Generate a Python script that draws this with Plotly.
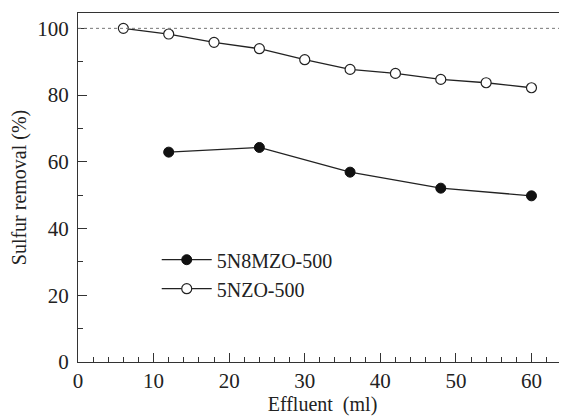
import plotly.graph_objects as go

x_nzo = [6, 12, 18, 24, 30, 36, 42, 48, 54, 60]
y_nzo = [100, 98.3, 95.8, 93.9, 90.6, 87.7, 86.5, 84.7, 83.7, 82.2]
x_n8mzo = [12, 24, 36, 48, 60]
y_n8mzo = [62.9, 64.3, 56.9, 52.1, 49.8]
ref_level = 100

font_family = "Liberation Serif, Times New Roman, serif"

fig = go.Figure()
fig.add_trace(go.Scatter(
    x=x_n8mzo, y=y_n8mzo, mode="lines+markers", name="5N8MZO-500",
    line=dict(color="#222222", width=1.3),
    marker=dict(symbol="circle", size=10, color="#111111", line=dict(color="#111111", width=1)),
))
fig.add_trace(go.Scatter(
    x=x_nzo, y=y_nzo, mode="lines+markers", name="5NZO-500",
    line=dict(color="#222222", width=1.3),
    marker=dict(symbol="circle", size=10, color="white", line=dict(color="#222222", width=1.2)),
))
fig.add_hline(y=ref_level, line=dict(color="#777777", width=1, dash="dot"))

fig.update_layout(
    width=567, height=419,
    margin=dict(l=70, r=8, t=5, b=65),
    paper_bgcolor="white", plot_bgcolor="white",
    font=dict(family=font_family, size=21, color="#222222"),
    showlegend=True,
    legend=dict(x=0.161, y=0.349, xanchor="left", yanchor="top",
                bgcolor="rgba(0,0,0,0)", font=dict(size=20, family=font_family),
                tracegroupgap=0, itemwidth=50),
    xaxis=dict(
        range=[0, 64.7], dtick=10, tick0=0, automargin=False,
        showline=True, linecolor="#333333", linewidth=1.3, mirror=True,
        ticks="inside", ticklen=9, tickwidth=1.2, tickcolor="#333333",
        minor=dict(dtick=2, ticks="inside", ticklen=5, tickcolor="#333333", tickwidth=1),
        showgrid=False, zeroline=False,
        title=dict(text="Effluent  (ml)", font=dict(size=20, family=font_family), standoff=2),
        tickfont=dict(size=21, family=font_family),
    ),
    yaxis=dict(
        range=[0, 104.6], dtick=20, tick0=0, automargin=False,
        showline=True, linecolor="#333333", linewidth=1.3,
        ticks="inside", ticklen=9, tickwidth=1.2, tickcolor="#333333",
        ticklabelstandoff=4,
        minor=dict(dtick=10, ticks="inside", ticklen=5, tickcolor="#333333", tickwidth=1),
        showgrid=False, zeroline=False,
        title=dict(text="Sulfur removal (%)", font=dict(size=20, family=font_family), standoff=16),
        tickfont=dict(size=21, family=font_family),
    ),
)

fig.write_html("out.html")
